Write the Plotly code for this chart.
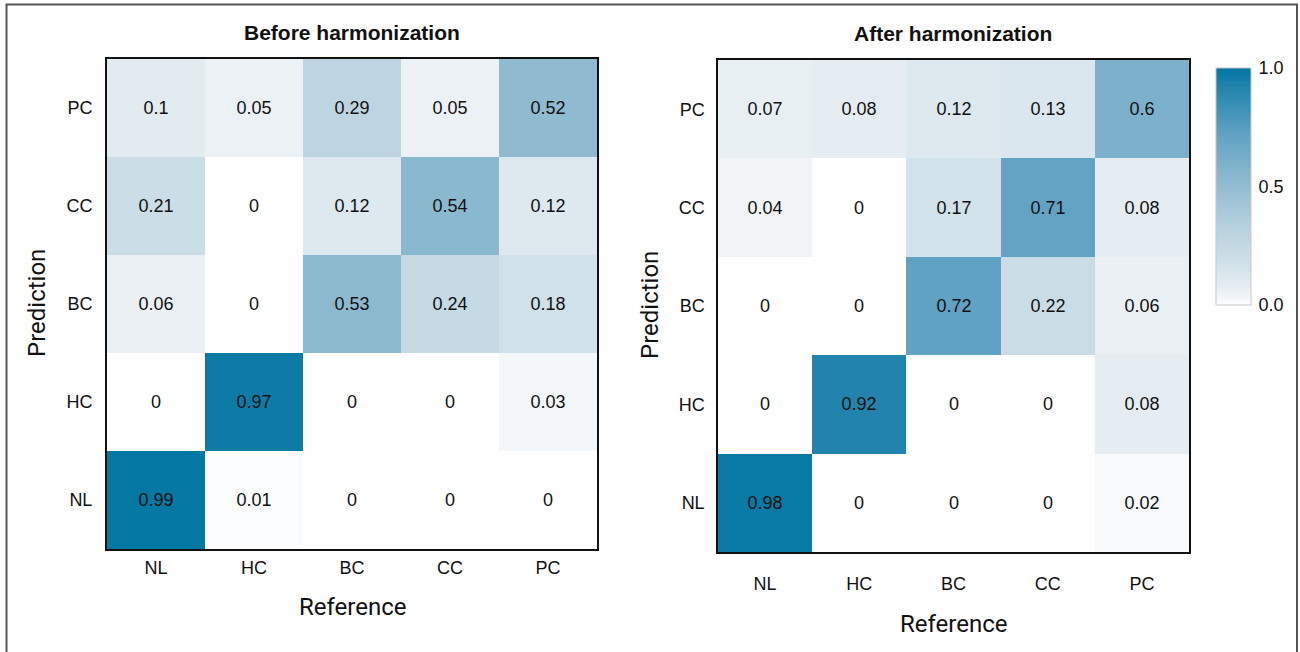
import plotly.graph_objects as go

# Confusion matrices: rows = predicted class, columns = reference class
classes = ["NL", "HC", "BC", "CC", "PC"]

before_nl = [0.99, 0.01, 0, 0, 0]
before_hc = [0, 0.97, 0, 0, 0.03]
before_bc = [0.06, 0, 0.53, 0.24, 0.18]
before_cc = [0.21, 0, 0.12, 0.54, 0.12]
before_pc = [0.1, 0.05, 0.29, 0.05, 0.52]

after_nl = [0.98, 0, 0, 0, 0.02]
after_hc = [0, 0.92, 0, 0, 0.08]
after_bc = [0, 0, 0.72, 0.22, 0.06]
after_cc = [0.04, 0, 0.17, 0.71, 0.08]
after_pc = [0.07, 0.08, 0.12, 0.13, 0.6]

before = [before_nl, before_hc, before_bc, before_cc, before_pc]
after = [after_nl, after_hc, after_bc, after_cc, after_pc]

colorscale = [
    [0.00, "rgb(255,255,255)"],
    [0.05, "rgb(236,241,245)"],
    [0.17, "rgb(210,226,234)"],
    [0.29, "rgb(190,213,225)"],
    [0.52, "rgb(143,186,208)"],
    [0.72, "rgb(96,162,195)"],
    [0.92, "rgb(34,132,172)"],
    [1.00, "rgb(0,117,162)"],
]

W, H = 1300, 652
FONT = "Liberation Sans"
LABEL_FONT = "Roboto"


def px_x(v):
    return v / W


def px_y(v):
    return 1 - v / H


fig = go.Figure()

fig.add_trace(go.Heatmap(
    z=before, x=classes, y=classes, xaxis="x", yaxis="y",
    colorscale=colorscale, zmin=0, zmax=1, showscale=False,
    texttemplate="%{z}", textfont=dict(size=18, color="#111", family=FONT),
    hoverinfo="skip",
))

fig.add_trace(go.Heatmap(
    z=after, x=classes, y=classes, xaxis="x2", yaxis="y2",
    colorscale=colorscale, zmin=0, zmax=1, showscale=True,
    texttemplate="%{z}", textfont=dict(size=18, color="#111", family=FONT),
    hoverinfo="skip",
    colorbar=dict(
        x=px_x(1216), xanchor="left", xpad=0,
        y=px_y(68), yanchor="top", ypad=0,
        len=(305 - 68) / H, lenmode="fraction",
        thickness=35, outlinecolor="#c8c8c8", outlinewidth=1,
        tickvals=[0, 0.5, 1], ticktext=["0.0", "0.5", "1.0"],
        ticks="outside", ticklen=4, tickcolor="rgba(0,0,0,0)",
        tickfont=dict(size=18, color="#111", family=FONT),
    ),
))

axis_common = dict(
    showgrid=False, zeroline=False, ticks="", showline=True, mirror=True,
    linecolor="#111", tickfont=dict(size=18, color="#111", family=FONT),
    fixedrange=True,
)

fig.update_layout(
    width=W, height=H,
    margin=dict(l=0, r=0, t=0, b=0),
    paper_bgcolor="white", plot_bgcolor="white",
    xaxis=dict(domain=[px_x(107), px_x(597)], anchor="y",
               ticklabelstandoff=1, linewidth=2, **axis_common),
    yaxis=dict(domain=[px_y(549), px_y(59)], anchor="x",
               ticklabelstandoff=9, linewidth=2, **axis_common),
    xaxis2=dict(domain=[px_x(718), px_x(1189)], anchor="y2",
                ticklabelstandoff=15, linewidth=1.5, **axis_common),
    yaxis2=dict(domain=[px_y(552), px_y(60)], anchor="x2",
                ticklabelstandoff=8, linewidth=1.5, **axis_common),
)

title_font = dict(size=21, color="#111", family=FONT)
label_font = dict(size=24, color="#111", family=LABEL_FONT)

annotations = [
    dict(text="<b>Before harmonization</b>", x=px_x(352), y=px_y(32), font=title_font),
    dict(text="<b>After harmonization</b>", x=px_x(953), y=px_y(33), font=title_font),
    dict(text="Reference", x=px_x(352), y=px_y(607), font=label_font),
    dict(text="Reference", x=px_x(953), y=px_y(624), font=label_font),
    dict(text="Prediction", x=px_x(37), y=px_y(303), font=label_font, textangle=-90),
    dict(text="Prediction", x=px_x(650), y=px_y(305), font=label_font, textangle=-90),
]
for a in annotations:
    fig.add_annotation(xref="paper", yref="paper", showarrow=False,
                       xanchor="center", yanchor="middle", **a)

# Outer frame around the whole figure
fig.add_shape(type="rect", xref="paper", yref="paper",
              x0=px_x(6.5), x1=px_x(1297), y0=-0.05, y1=px_y(4.5),
              line=dict(color="#555", width=2), fillcolor="rgba(0,0,0,0)",
              layer="above")

fig.write_html("out.html")
